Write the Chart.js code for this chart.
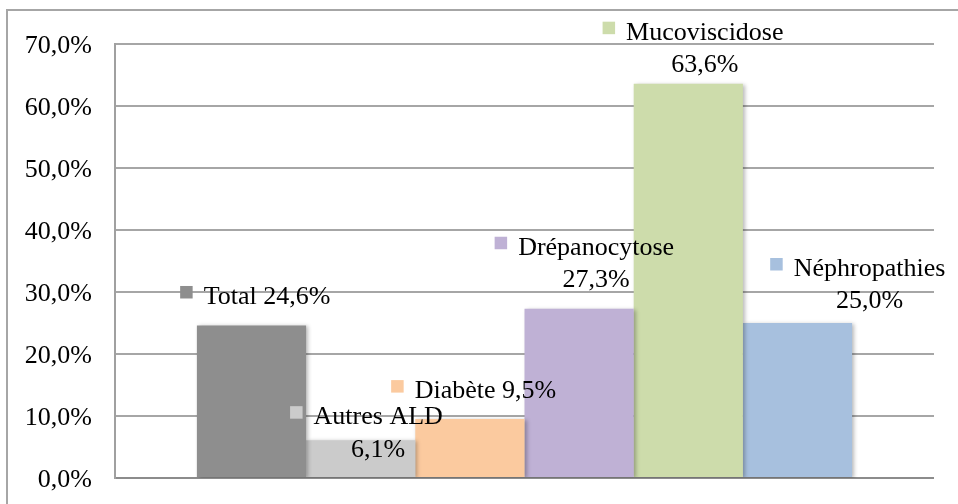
<!DOCTYPE html>
<html>
<head>
<meta charset="utf-8">
<script src="https://cdn.jsdelivr.net/npm/chart.js@4"></script>
<style>
  html, body { margin: 0; padding: 0; background: #fff; }
  #frame { position: absolute; left: 6px; top: 9px; width: 1000px; height: 600px; border-left: 2px solid #a6a6a6; border-top: 2px solid #a6a6a6; }
  #wrap { position: absolute; left: 0; top: 0; width: 958px; height: 504px; }
</style>
</head>
<body>
<div id="frame"></div>
<div id="wrap"><canvas id="chart" width="958" height="504"></canvas></div>
<script>
// series (one bar per series, Excel-style)
const seriesNames = ['Total', 'Autres ALD', 'Diabète', 'Drépanocytose', 'Mucoviscidose', 'Néphropathies'];
const seriesValues = [24.6, 6.1, 9.5, 27.3, 63.6, 25.0];
const seriesColors = ['#8e8e8e', '#cbcbcb', '#fbca9f', '#bfb1d5', '#cddcab', '#a7c0de'];
// whether the value goes on a second line in the data label
const valueOnNewLine = [false, true, false, true, true, true];
const yTicks = [0, 10, 20, 30, 40, 50, 60, 70];

// label placement relative to bar centre / bar top (first line)
const labelOffsets = [
    { dx: 15.5, dy: -28.5 },
    { dx: 17.5, dy: -23 },
    { dx: 15.5, dy: -28 },
    { dx: 17, dy: -61 },
    { dx: 16.5, dy: -51 },
    { dx: 72, dy: -54 }
];

const FONT = '26px "Liberation Serif", "Times New Roman", serif';
const fmt = v => v.toFixed(1).replace('.', ',') + '%';

const barShadow = {
    id: 'barShadow',
    beforeDatasetsDraw(chart) {
        const ctx = chart.ctx;
        ctx.save();
        ctx.shadowColor = 'rgba(0,0,0,0.28)';
        ctx.shadowBlur = 4;
        ctx.shadowOffsetX = 2;
        ctx.shadowOffsetY = 1;
    },
    afterDatasetsDraw(chart) { chart.ctx.restore(); }
};

const dataLabels = {
    id: 'dataLabels',
    afterDraw(chart) {
        const ctx = chart.ctx;
        ctx.save();
        ctx.font = FONT;
        ctx.fillStyle = '#000';
        ctx.textAlign = 'center';
        ctx.textBaseline = 'middle';
        chart.data.datasets.forEach((ds, i) => {
            const bar = chart.getDatasetMeta(i).data[0];
            const off = labelOffsets[i];
            const cx = bar.x + off.dx;
            const y1 = bar.y + off.dy;
            const lines = valueOnNewLine[i]
                ? [seriesNames[i], fmt(seriesValues[i])]
                : [seriesNames[i] + ' ' + fmt(seriesValues[i])];
            lines.forEach((t, k) => ctx.fillText(t, cx, y1 + k * 32.5));
            const w = ctx.measureText(lines[0]).width;
            ctx.fillStyle = seriesColors[i];
            ctx.fillRect(cx - w / 2 - 11 - 12.5, y1 - 11, 12.5, 12.5);
            ctx.fillStyle = '#000';
        });
        ctx.restore();
    }
};

new Chart(document.getElementById('chart'), {
    type: 'bar',
    data: {
        labels: [''],
        datasets: seriesNames.map((name, i) => ({
            label: name,
            data: [seriesValues[i]],
            backgroundColor: seriesColors[i],
            borderWidth: 0,
            barPercentage: 1.0,
            categoryPercentage: 0.8
        }))
    },
    options: {
        responsive: false,
        animation: false,
        layout: { padding: { left: 0, right: 24, top: 44, bottom: 26 } },
        plugins: { legend: { display: false }, tooltip: { enabled: false } },
        scales: {
            x: { display: false, offset: true },
            y: {
                min: 0, max: 70,
                afterFit: s => { s.width = 115; s.paddingTop = 0; s.paddingBottom = 0; },
                afterBuildTicks: s => { s.ticks = yTicks.map(v => ({ value: v })); },
                border: { display: true, color: '#a0a0a0', width: 2 },
                grid: {
                    drawTicks: false,
                    color: c => c.tick && c.tick.value === 0 ? '#8c8c8c' : '#a6a6a6',
                    lineWidth: 2
                },
                ticks: {
                    padding: 23,
                    labelOffset: 2,
                    color: '#000',
                    font: { family: '"Liberation Serif", "Times New Roman", serif', size: 26 },
                    callback: v => fmt(v)
                }
            }
        }
    },
    plugins: [barShadow, dataLabels]
});
</script>
</body>
</html>
